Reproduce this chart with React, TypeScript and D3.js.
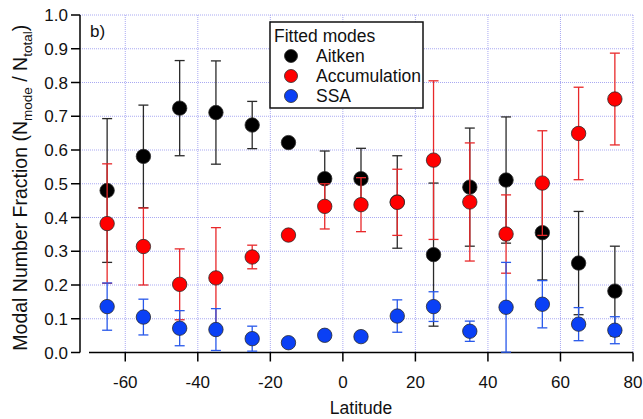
import React from 'react';
import * as d3 from 'd3';

const latitudes = [-65, -55, -45, -35, -25, -15, -5, 5, 15, 25, 35, 45, 55, 65, 75];
const aitken = [0.48, 0.581, 0.724, 0.711, 0.674, 0.622, 0.515, 0.515, 0.446, 0.29, 0.49, 0.511, 0.355, 0.265, 0.182];
const aitkenErr = [0.213, 0.152, 0.141, 0.153, 0.07, 0, 0.082, 0.09, 0.137, 0.212, 0.175, 0.187, 0.14, 0.153, 0.133];
const accumulation = [0.382, 0.314, 0.202, 0.221, 0.283, 0.348, 0.433, 0.438, 0.445, 0.57, 0.446, 0.351, 0.502, 0.649, 0.751];
const accumulationErr = [0.177, 0.114, 0.105, 0.149, 0.035, 0, 0.067, 0.08, 0.098, 0.235, 0.175, 0.116, 0.155, 0.137, 0.136];
const ssa = [0.136, 0.105, 0.072, 0.068, 0.041, 0.029, 0.051, 0.047, 0.108, 0.136, 0.063, 0.134, 0.143, 0.084, 0.066];
const ssaErr = [0.07, 0.053, 0.052, 0.062, 0.037, 0, 0, 0, 0.048, 0.044, 0.03, 0.133, 0.07, 0.049, 0.04];

const xTicks = [-60, -40, -20, 0, 20, 40, 60, 80];
const yTicks = [0, 0.1, 0.2, 0.3, 0.4, 0.5, 0.6, 0.7, 0.8, 0.9, 1.0];

const series = [
  { name: 'Aitken', values: aitken, errs: aitkenErr, fill: '#000000', bar: '#2a2a2a' },
  { name: 'Accumulation', values: accumulation, errs: accumulationErr, fill: '#ff0000', bar: '#e8282a' },
  { name: 'SSA', values: ssa, errs: ssaErr, fill: '#0a40f5', bar: '#2858ea' },
];

const font = '"Liberation Sans", Arial, sans-serif';

export default function App() {
  const width = 643;
  const height = 419;
  const x = d3.scaleLinear().domain([-70, 80]).range([89, 633]);
  const y = d3.scaleLinear().domain([0, 1]).range([352.5, 15]);
  const axisX = 80;
  const cap = 5;
  const tickFont = 17;

  return (
    <svg width={width} height={height} style={{ position: 'absolute', left: 0, top: 0, background: '#fff' }} fontFamily={font}>
      {/* grid */}
      <g stroke="#a9a9f2" strokeWidth={1} strokeDasharray="1,1" fill="none">
        {yTicks.filter(t => t > 0).map(t => (
          <line key={'gy' + t} x1={axisX} x2={x(80)} y1={y(t)} y2={y(t)} />
        ))}
        {xTicks.map(t => (
          <line key={'gx' + t} x1={x(t)} x2={x(t)} y1={y(1)} y2={y(0)} />
        ))}
      </g>

      {/* y axis */}
      <g stroke="#000" strokeWidth={1.5}>
        <line x1={axisX} x2={axisX} y1={y(1)} y2={y(0)} />
        {yTicks.map(t => (
          <line key={'ty' + t} x1={axisX - 9} x2={axisX} y1={y(t)} y2={y(t)} />
        ))}
      </g>
      <g fontSize={tickFont} textAnchor="end" fill="#111">
        {yTicks.map(t => (
          <text key={'ly' + t} x={68} y={y(t)} dy="0.36em">{d3.format('.1f')(t)}</text>
        ))}
      </g>

      {/* x axis */}
      <g stroke="#000" strokeWidth={1.5}>
        <line x1={x(-70)} x2={x(80)} y1={y(0)} y2={y(0)} />
        {xTicks.map(t => (
          <line key={'tx' + t} x1={x(t)} x2={x(t)} y1={y(0)} y2={y(0) + 9} />
        ))}
      </g>
      <g fontSize={tickFont} textAnchor="middle" fill="#111">
        {xTicks.map(t => (
          <text key={'lx' + t} x={x(t)} y={388}>{t}</text>
        ))}
      </g>
      <text x={(x(-70) + x(80)) / 2} y={414} fontSize={17.5} textAnchor="middle" fill="#111">Latitude</text>

      <text transform={`translate(27, ${(y(0) + y(1)) / 2 + 4}) rotate(-90)`} fontSize={19.5} textAnchor="middle" fill="#111">
        Modal Number Fraction (N
        <tspan fontSize={13.5} dy={5}>mode</tspan>
        <tspan dy={-5}> / N</tspan>
        <tspan fontSize={13.5} dy={5}>total</tspan>
        <tspan dy={-5}>)</tspan>
      </text>

      <text x={90} y={37} fontSize={17} fill="#111">b)</text>

      {/* data */}
      {series.map(s => (
        <g key={s.name}>
          <g stroke={s.bar} strokeWidth={1.3}>
            {latitudes.map((lat, i) => {
              const e = s.errs[i];
              if (!e) return null;
              const cx = x(lat);
              const y1 = y(s.values[i] + e);
              const y2 = y(Math.max(0, s.values[i] - e));
              return (
                <g key={lat}>
                  <line x1={cx} x2={cx} y1={y1} y2={y2} />
                  <line x1={cx - cap} x2={cx + cap} y1={y1} y2={y1} />
                  <line x1={cx - cap} x2={cx + cap} y1={y2} y2={y2} />
                </g>
              );
            })}
          </g>
          {latitudes.map((lat, i) => (
            <circle key={lat} cx={x(lat)} cy={y(s.values[i])} r={7.2} fill={s.fill} stroke="#2a2a2a" strokeWidth={0.8} />
          ))}
        </g>
      ))}

      {/* legend */}
      <rect x={270} y={22} width={153} height={86} fill="#fff" stroke="#111" strokeWidth={1.5} />
      <text x={274} y={41.5} fontSize={17.5} fill="#111">Fitted modes</text>
      {series.map((s, i) => (
        <g key={'leg' + s.name}>
          <circle cx={291} cy={56 + i * 20} r={6.5} fill={s.fill} stroke="#2a2a2a" strokeWidth={0.8} />
          <text x={316} y={62 + i * 20} fontSize={17.5} fill="#111">{s.name}</text>
        </g>
      ))}
    </svg>
  );
}
